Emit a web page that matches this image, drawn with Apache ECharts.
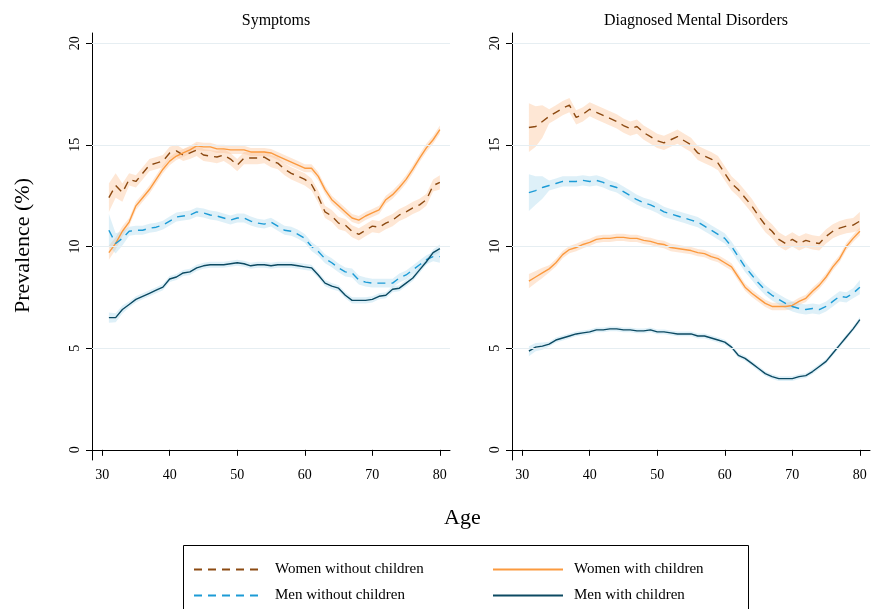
<!DOCTYPE html>
<html>
  <head>
    <meta charset="utf-8" />
    <script src="https://cdn.jsdelivr.net/npm/echarts@6.0.0/dist/echarts.min.js"></script>
    <style>
      body { margin: 0; background: #fff; }
      #main { width: 872px; height: 609px; }
    </style>
  </head>
  <body>
    <div id="main"></div>
    <script>
      // ages 31..80
      var ages = [];
      for (var a = 31; a <= 80; a++) ages.push(a);
      var xTicks = [30, 40, 50, 60, 70, 80];
      var yTicks = [0, 5, 10, 15, 20];

      // Symptoms panel
      var symWomenNo = [12.4, 13.0, 12.65, 13.3, 13.2, 13.6, 14.0, 14.1, 14.2, 14.6, 14.7, 14.5, 14.6, 14.75, 14.5, 14.45, 14.4, 14.5, 14.3, 14.0, 14.35, 14.35, 14.35, 14.4, 14.2, 14.1, 13.8, 13.6, 13.45, 13.3, 13.05, 12.45, 11.7, 11.5, 11.15, 11.05, 10.75, 10.6, 10.8, 11.0, 10.95, 11.15, 11.3, 11.55, 11.7, 11.9, 12.05, 12.3, 13.0, 13.15];
      var symWomenYes = [9.7, 10.15, 10.75, 11.2, 12.0, 12.4, 12.8, 13.3, 13.8, 14.2, 14.45, 14.6, 14.75, 14.95, 14.9, 14.9, 14.8, 14.8, 14.75, 14.75, 14.75, 14.65, 14.65, 14.65, 14.6, 14.45, 14.3, 14.15, 14.0, 13.85, 13.85, 13.45, 12.8, 12.3, 12.0, 11.7, 11.4, 11.3, 11.5, 11.65, 11.8, 12.3, 12.55, 12.9, 13.3, 13.8, 14.35, 14.85, 15.25, 15.75];
      var symMenNo = [10.8, 10.15, 10.4, 10.75, 10.8, 10.8, 10.9, 10.95, 11.05, 11.25, 11.45, 11.5, 11.55, 11.7, 11.65, 11.55, 11.5, 11.4, 11.3, 11.4, 11.4, 11.25, 11.15, 11.1, 11.2, 11.0, 10.8, 10.75, 10.6, 10.4, 10.0, 9.75, 9.4, 9.2, 8.95, 8.75, 8.7, 8.35, 8.25, 8.2, 8.2, 8.2, 8.2, 8.45, 8.6, 8.85, 9.1, 9.35, 9.5, 9.5];
      var symMenYes = [6.5, 6.5, 6.9, 7.15, 7.4, 7.55, 7.7, 7.85, 8.0, 8.4, 8.5, 8.7, 8.75, 8.95, 9.05, 9.1, 9.1, 9.1, 9.15, 9.2, 9.15, 9.05, 9.1, 9.1, 9.05, 9.1, 9.1, 9.1, 9.05, 9.0, 8.95, 8.6, 8.2, 8.05, 7.95, 7.6, 7.35, 7.35, 7.35, 7.4, 7.55, 7.6, 7.9, 7.95, 8.2, 8.45, 8.85, 9.25, 9.7, 9.9];

      // Diagnosed panel
      var diaWomenNo = [15.85, 15.9, 16.15, 16.4, 16.6, 16.8, 16.95, 16.35, 16.5, 16.75, 16.6, 16.45, 16.3, 16.15, 15.95, 15.8, 15.9, 15.6, 15.4, 15.2, 15.1, 15.25, 15.4, 15.2, 15.0, 14.6, 14.45, 14.3, 14.1, 13.6, 13.1, 12.8, 12.4, 12.0, 11.5, 11.05, 10.75, 10.35, 10.15, 10.35, 10.15, 10.3, 10.2, 10.15, 10.5, 10.75, 10.9, 11.0, 11.05, 11.25];
      var diaWomenYes = [8.3, 8.5, 8.7, 8.9, 9.2, 9.6, 9.85, 9.95, 10.1, 10.2, 10.35, 10.4, 10.4, 10.45, 10.45, 10.4, 10.4, 10.3, 10.25, 10.15, 10.1, 9.95, 9.9, 9.85, 9.8, 9.7, 9.65, 9.5, 9.4, 9.2, 9.0, 8.5, 8.0, 7.7, 7.45, 7.2, 7.05, 7.05, 7.05, 7.1, 7.3, 7.45, 7.8, 8.1, 8.5, 9.0, 9.4, 10.0, 10.4, 10.75];
      var diaMenNo = [12.65, 12.75, 12.9, 13.0, 13.1, 13.2, 13.2, 13.2, 13.25, 13.2, 13.25, 13.15, 13.0, 12.9, 12.7, 12.5, 12.3, 12.15, 12.05, 11.9, 11.7, 11.6, 11.5, 11.4, 11.3, 11.2, 11.0, 10.8, 10.6, 10.4, 10.0, 9.5, 9.0, 8.6, 8.2, 7.85, 7.6, 7.4, 7.2, 7.05, 6.95, 6.9, 6.95, 6.9, 7.05, 7.3, 7.55, 7.5, 7.7, 8.0];
      var diaMenYes = [4.85, 5.05, 5.1, 5.2, 5.4, 5.5, 5.6, 5.7, 5.75, 5.8, 5.9, 5.9, 5.95, 5.95, 5.9, 5.9, 5.85, 5.85, 5.9, 5.8, 5.8, 5.75, 5.7, 5.7, 5.7, 5.6, 5.6, 5.5, 5.4, 5.3, 5.05, 4.65, 4.5, 4.25, 4.0, 3.75, 3.6, 3.5, 3.5, 3.5, 3.6, 3.65, 3.85, 4.1, 4.35, 4.75, 5.15, 5.55, 5.95, 6.4];

      // confidence half-widths: [first age, second, third, middle, last]
      var hwSymWomenNo = [0.7, 0.6, 0.45, 0.3, 0.35];
      var hwSymWomenYes = [0.35, 0.3, 0.25, 0.2, 0.2];
      var hwSymMenNo = [0.8, 0.5, 0.35, 0.22, 0.3];
      var hwSymMenYes = [0.25, 0.22, 0.2, 0.15, 0.2];
      var hwDiaWomenNo = [1.2, 1.0, 0.8, 0.35, 0.45];
      var hwDiaWomenYes = [0.35, 0.3, 0.25, 0.18, 0.2];
      var hwDiaMenNo = [0.9, 0.7, 0.55, 0.25, 0.35];
      var hwDiaMenYes = [0.25, 0.2, 0.18, 0.12, 0.15];

      var names = ['Women without children', 'Women with children', 'Men without children', 'Men with children'];
      var lineColors = ['#8c4a12', '#fb9a3f', '#1c9bd6', '#0c4a62'];
      var bandColors = ['rgba(252,196,150,0.4)', 'rgba(252,196,150,0.4)', 'rgba(160,212,234,0.35)', 'rgba(160,212,234,0.35)'];
      var dashed = [true, false, true, false];

      function halfWidth(hw, i, n) {
        if (i < 3) return hw[i];
        if (i === n - 1) return hw[4];
        return hw[3];
      }

      var font = 'Liberation Serif';
      var series = [];

      function addPanel(idx, values, hws) {
        values.forEach(function (vals, k) {
          var n = vals.length;
          var band = vals.map(function (v, i) {
            var h = halfWidth(hws[k], i, n);
            return [ages[i], v - h, v + h];
          });
          series.push({
            type: 'custom', xAxisIndex: idx, yAxisIndex: idx, silent: true, z: 1,
            data: [0],
            renderItem: function (params, api) {
              var pts = [];
              band.forEach(function (d) { pts.push(api.coord([d[0], d[2]])); });
              for (var i = band.length - 1; i >= 0; i--) pts.push(api.coord([band[i][0], band[i][1]]));
              return { type: 'polygon', shape: { points: pts }, style: { fill: bandColors[k] } };
            }
          });
        });
        values.forEach(function (vals, k) {
          series.push({
            name: names[k], type: 'line', xAxisIndex: idx, yAxisIndex: idx,
            data: vals.map(function (v, i) { return [ages[i], v]; }),
            symbol: 'none', z: 3,
            lineStyle: { color: lineColors[k], width: 1.4, type: dashed[k] ? [8, 6] : 'solid' },
            itemStyle: { color: lineColors[k] },
            markLine: k === 0 ? {
              silent: true, symbol: 'none', label: { show: false },
              lineStyle: { color: '#e6eef2', width: 1, type: 'solid' },
              data: [5, 10, 15, 20].map(function (y) { return { yAxis: y }; })
            } : undefined
          });
        });
      }

      addPanel(0, [symWomenNo, symWomenYes, symMenNo, symMenYes],
        [hwSymWomenNo, hwSymWomenYes, hwSymMenNo, hwSymMenYes]);
      addPanel(1, [diaWomenNo, diaWomenYes, diaMenNo, diaMenYes],
        [hwDiaWomenNo, hwDiaWomenYes, hwDiaMenNo, hwDiaMenYes]);

      function xAxis(i) {
        return {
          type: 'value', gridIndex: i, min: 28.5, max: 81.5,
          axisLine: { lineStyle: { color: '#000' } },
          axisTick: { customValues: xTicks, length: 6, lineStyle: { color: '#000' } },
          axisLabel: { customValues: xTicks, color: '#000', fontFamily: font, fontSize: 14, margin: 8 },
          splitLine: { show: false }
        };
      }
      function yAxis(i) {
        return {
          type: 'value', gridIndex: i, min: -0.5, max: 20.5,
          axisLine: { show: true, lineStyle: { color: '#000' } },
          axisTick: { show: true, customValues: yTicks, length: 6, lineStyle: { color: '#000' } },
          axisLabel: { customValues: yTicks, rotate: 90, color: '#000', fontFamily: font, fontSize: 14, margin: 10 },
          splitLine: { show: false }
        };
      }

      function legendItem(k, left, top) {
        return {
          data: [names[k]], left: left, top: top, padding: 0,
          itemWidth: 70, itemHeight: 12, itemGap: 12,
          itemStyle: { opacity: 0 },
          textStyle: { fontFamily: font, fontSize: 15, color: '#000', padding: [0, 0, 0, 6] }
        };
      }

      var chart = echarts.init(document.getElementById('main'));
      chart.setOption({
        animation: false,
        textStyle: { fontFamily: font },
        title: [
          { text: 'Symptoms', left: 271, top: 8, textAlign: 'center', textStyle: { fontFamily: font, fontSize: 16, fontWeight: 'normal', color: '#000' } },
          { text: 'Diagnosed Mental Disorders', left: 691, top: 8, textAlign: 'center', textStyle: { fontFamily: font, fontSize: 16, fontWeight: 'normal', color: '#000' } }
        ],
        grid: [
          { left: 92, width: 358, top: 33, height: 427 },
          { left: 512, width: 358, top: 33, height: 427 }
        ],
        xAxis: [xAxis(0), xAxis(1)],
        yAxis: [yAxis(0), yAxis(1)],
        legend: [
          legendItem(0, 193, 562),
          legendItem(2, 193, 588),
          legendItem(1, 492, 562),
          legendItem(3, 492, 588)
        ],
        graphic: [
          { type: 'rect', shape: { x: 183.5, y: 545.5, width: 565, height: 70 }, style: { fill: 'none', stroke: '#000', lineWidth: 1 } },
          { type: 'text', left: 12, top: 178, rotation: Math.PI / 2, style: { text: 'Prevalence (%)', font: '22px "Liberation Serif"', fill: '#000' } },
          { type: 'text', left: 444, top: 507, style: { text: 'Age', font: '22px "Liberation Serif"', fill: '#000' } }
        ],
        series: series
      });
    </script>
  </body>
</html>
